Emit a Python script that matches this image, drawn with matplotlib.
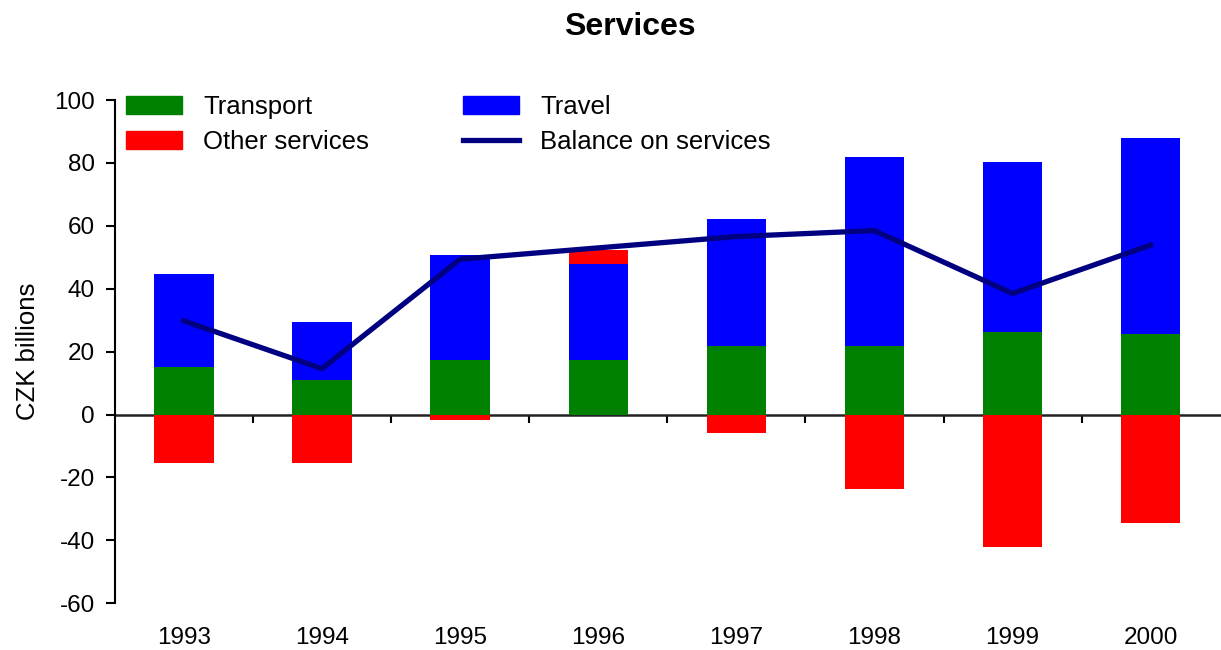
import numpy as np
import matplotlib.pyplot as plt
from matplotlib.patches import Patch
from matplotlib.lines import Line2D

plt.rcParams['font.family'] = ['Liberation Sans', 'DejaVu Sans']
plt.rcParams['axes.unicode_minus'] = False

# CZK billions
years = ['1993', '1994', '1995', '1996', '1997', '1998', '1999', '2000']
transport = [15.0, 11.1, 17.5, 17.5, 21.9, 21.9, 26.3, 25.7]
travel = [29.8, 18.4, 33.3, 30.4, 40.3, 60.0, 54.0, 62.2]
other = [-15.5, -15.5, -1.6, 4.5, -6.0, -23.8, -42.1, -34.5]
balance = [29.8, 14.6, 49.4, 53.0, 56.6, 58.5, 38.5, 53.9]

col_transport = '#008000'
col_travel = '#0000ff'
col_other = '#ff0000'
col_balance = '#000080'

fs = 17.5
fs_leg = 18.5

fig = plt.figure(figsize=(12.21, 6.5), dpi=100)
ax = fig.add_axes([0.094, 0.072, 0.905, 0.774])

x = np.arange(len(years))
transport = np.array(transport)
travel = np.array(travel)
other = np.array(other)

w = 0.43
ax.bar(x, transport, width=w, color=col_transport, zorder=2)
ax.bar(x, travel, width=w, bottom=transport, color=col_travel, zorder=2)
# negative "other" hangs below zero, positive sits on top of the stack
other_bottom = np.where(other >= 0, transport + travel, 0)
ax.bar(x, other, width=w, bottom=other_bottom, color=col_other, zorder=2)
ax.plot(x, balance, color=col_balance, lw=3.8, zorder=3, solid_joinstyle='miter')

ax.set_xlim(-0.5, len(years) - 0.5)
ax.set_ylim(-60, 100)
ax.set_yticks(np.arange(-60, 101, 20))
ax.tick_params(axis='y', labelsize=fs, direction='out', length=6.5, width=1.5, pad=8)
ax.set_xticks(x)
ax.set_xticklabels(years)
ax.tick_params(axis='x', labelsize=fs, length=0, pad=17)

for s in ['top', 'right', 'bottom']:
    ax.spines[s].set_visible(False)
ax.spines['left'].set_linewidth(1.5)

# category axis drawn along zero, with ticks between the years
zero_frac = (0 - (-60)) / (100 - (-60))
sec = ax.secondary_xaxis(zero_frac)
sec.set_xticks(x[:-1] + 0.5)
sec.set_xticklabels([])
sec.tick_params(direction='out', length=6, width=1.5)
sec.spines['bottom'].set_linewidth(1.8)
sec.spines['bottom'].set_color('#222222')

ax.set_ylabel('CZK billions', fontsize=fs_leg, labelpad=10)

fig.text(0.516, 0.958, 'Services', fontsize=23, fontweight='bold', ha='center', va='center')

handles = [Patch(color=col_transport), Patch(color=col_other),
           Patch(color=col_travel), Line2D([], [], color=col_balance, lw=3.8)]
labels = ['Transport', 'Other services', 'Travel', 'Balance on services']
ax.legend(handles, labels, ncol=2, loc='upper left', frameon=False, fontsize=fs_leg,
          bbox_to_anchor=(126 / 1221, 1 - 95 / 650), bbox_transform=fig.transFigure,
          borderaxespad=0, borderpad=0, handlelength=2.18, handleheight=0.7,
          handletextpad=0.82, columnspacing=3.66, labelspacing=0.44)

plt.savefig('out.png', dpi=100)
plt.close()
